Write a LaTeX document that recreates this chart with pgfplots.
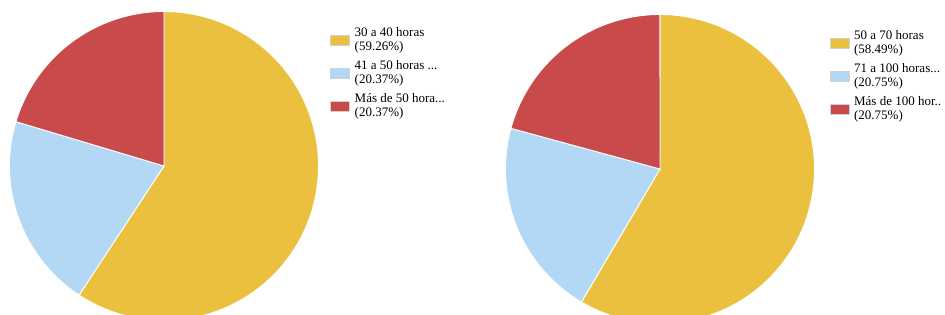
\documentclass[border=0pt]{standalone}
\usepackage{pgfplots}
\pgfplotsset{compat=1.18}
\usepackage{fontspec}
\setmainfont{Liberation Serif}
\definecolor{pgold}{HTML}{EBC03F}
\definecolor{pblue}{HTML}{B2D8F5}
\definecolor{pred}{HTML}{C84A4A}
\newcommand{\lentry}[2]{\begin{tabular}{@{}l@{}}#1\\#2\end{tabular}}
\pgfplotsset{pie/.style={scale only axis, width=309pt, height=309pt,
  xmin=-1, xmax=1, ymin=-1, ymax=1, hide axis, clip=false, anchor=south west,
  legend cell align=left,
  legend style={draw=none, fill=none, anchor=north west, inner sep=0pt,
    /tikz/column sep=4pt, /tikz/row sep=3pt,
    font=\fontsize{13}{14}\selectfont, nodes={inner xsep=1pt, inner ysep=1pt, text depth=, text height=}},
  legend image code/.code={\path[##1, draw=black!18, line width=0.6pt] (0pt,-5pt) rectangle (19pt,5pt);},
  slice/.style={fill=##1, draw=white, line width=0.9pt, samples=120}}}
\begin{document}
\begin{tikzpicture}
\useasboundingbox (0pt,0pt) rectangle (945pt,315pt);
\clip (0pt,0pt) rectangle (945pt,315pt);
% Pie 1: 30 a 40 horas 59.26, 41 a 50 horas 20.37, Mas de 50 horas 20.37
\begin{axis}[pie, at={(9.5pt,-5.5pt)}, legend style={at={(1.037,0.955)}}]
\addplot[slice=pgold, domain={90-3.6*59.26}:{90}] ({cos(x)},{sin(x)}) -- (axis cs:0,0) -- cycle;
\addlegendentry{\lentry{30 a 40 horas}{(59.26\%)}}
\addplot[slice=pblue, domain={90-3.6*(59.26+20.37)}:{90-3.6*59.26}] ({cos(x)},{sin(x)}) -- (axis cs:0,0) -- cycle;
\addlegendentry{\lentry{41 a 50 horas ...}{(20.37\%)}}
\addplot[slice=pred, domain={90-3.6*(59.26+20.37+20.37)}:{90-3.6*(59.26+20.37)}] ({cos(x)},{sin(x)}) -- (axis cs:0,0) -- cycle;
\addlegendentry{\lentry{Más de 50 hora...}{(20.37\%)}}
\end{axis}
% Pie 2: 50 a 70 horas 58.49, 71 a 100 horas 20.75, Mas de 100 horas 20.75
\begin{axis}[pie, at={(505.5pt,-8.5pt)}, legend style={at={(1.048,0.956)}}]
\addplot[slice=pgold, domain={90-3.6*58.49}:{90}] ({cos(x)},{sin(x)}) -- (axis cs:0,0) -- cycle;
\addlegendentry{\lentry{50 a 70 horas}{(58.49\%)}}
\addplot[slice=pblue, domain={90-3.6*(58.49+20.75)}:{90-3.6*58.49}] ({cos(x)},{sin(x)}) -- (axis cs:0,0) -- cycle;
\addlegendentry{\lentry{71 a 100 horas...}{(20.75\%)}}
\addplot[slice=pred, domain={90-3.6*(58.49+20.75+20.75)}:{90-3.6*(58.49+20.75)}] ({cos(x)},{sin(x)}) -- (axis cs:0,0) -- cycle;
\addlegendentry{\lentry{Más de 100 hor..}{(20.75\%)}}
\end{axis}
\end{tikzpicture}
\end{document}
